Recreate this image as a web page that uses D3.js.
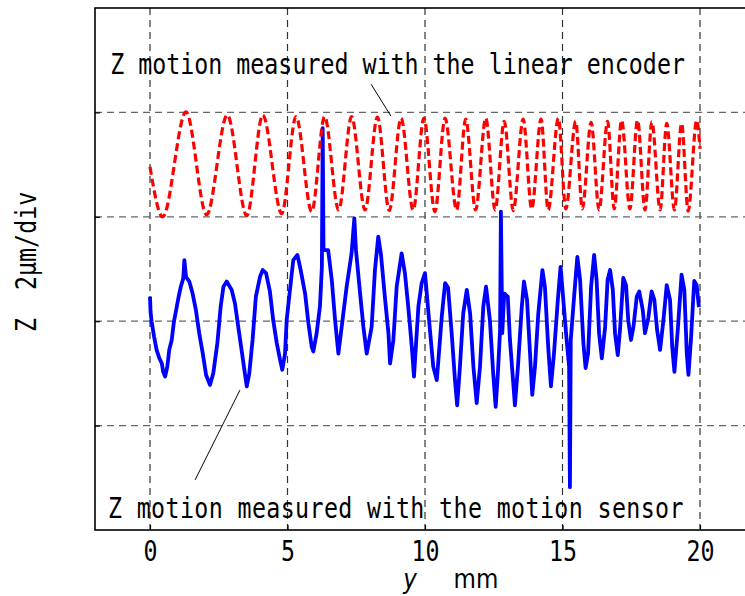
<!DOCTYPE html>
<html>
<head>
<meta charset="utf-8">
<script src="https://cdn.jsdelivr.net/npm/d3@7/dist/d3.min.js"></script>
<style>
  html, body { margin: 0; padding: 0; background: #fff; }
  svg { display: block; }
  text { fill: #000; }
</style>
</head>
<body>
<svg id="chart" width="745" height="596"></svg>
<script>
// Feed position y (mm)
const xTicks = [0, 5, 10, 15, 20];
// Z grid lines (µm), 2 µm per division
const zGrid = [-2, 0, 2, 4];

// Linear encoder trace: turning points of the oscillation
const encoderY = [0.00, 0.46, 1.31, 2.06, 2.81, 3.52, 4.10, 4.79, 5.31, 5.88, 6.35, 6.86, 7.33, 7.82,
  8.27, 8.70, 9.13, 9.57, 9.96, 10.36, 10.73, 11.15, 11.48, 11.84, 12.21, 12.55, 12.88, 13.21,
  13.57, 13.88, 14.22, 14.48, 14.85, 15.12, 15.48, 15.72, 16.04, 16.33, 16.64, 16.88, 17.15,
  17.45, 17.73, 18.00, 18.25, 18.55, 18.79, 19.07, 19.33, 19.57, 19.88, 20.00];
const encoderZ = [2.96, 2.00, 4.01, 2.04, 3.95, 2.02, 3.95, 2.06, 3.92, 2.10, 3.92, 2.13, 3.92, 2.13,
  3.91, 2.12, 3.89, 2.13, 3.89, 2.10, 3.89, 2.13, 3.87, 2.13, 3.89, 2.13, 3.83, 2.12,
  3.87, 2.15, 3.87, 2.13, 3.89, 2.15, 3.83, 2.15, 3.81, 2.13, 3.83, 2.15, 3.85,
  2.15, 3.85, 2.13, 3.82, 2.13, 3.79, 2.13, 3.79, 2.11, 3.85, 3.30];

// Motion sensor trace
const sensorY = [0.00, 0.02, 0.06, 0.15, 0.24, 0.34, 0.43, 0.48, 0.55, 0.63, 0.70, 0.79, 0.87, 0.95,
  1.03, 1.12, 1.21, 1.25, 1.31, 1.43, 1.55, 1.67, 1.79, 1.92, 2.04, 2.18, 2.30, 2.45, 2.57, 2.67,
  2.79, 2.97, 3.09, 3.21, 3.33, 3.45, 3.52, 3.61, 3.73, 3.85, 4.00, 4.10, 4.22, 4.36, 4.48, 4.61,
  4.73, 4.81, 4.91, 4.97, 5.09, 5.21, 5.36, 5.48, 5.64, 5.76, 5.88, 5.94, 6.06, 6.18, 6.25, 6.28,
  6.31, 6.48, 6.61, 6.73, 6.85, 6.97, 7.15, 7.33, 7.43, 7.49, 7.64, 7.76, 7.88, 8.06, 8.18, 8.30,
  8.40, 8.55, 8.67, 8.73, 8.85, 8.97, 9.15, 9.27, 9.39, 9.52, 9.60, 9.76, 9.88, 10.00, 10.18,
  10.30, 10.43, 10.61, 10.73, 10.84, 10.97, 11.09, 11.17, 11.27, 11.39, 11.52, 11.64, 11.76,
  11.88, 12.00, 12.12, 12.22, 12.36, 12.48, 12.57, 12.65, 12.73, 12.76, 12.81, 12.88, 13.01,
  13.09, 13.21, 13.27, 13.38, 13.52, 13.60, 13.71, 13.82, 13.90, 14.00, 14.12, 14.27, 14.36,
  14.48, 14.58, 14.69, 14.83, 14.93, 15.03, 15.15, 15.24, 15.27, 15.30, 15.43, 15.54, 15.64,
  15.76, 15.84, 15.93, 16.04, 16.15, 16.24, 16.33, 16.43, 16.55, 16.64, 16.73, 16.83, 16.91,
  17.01, 17.09, 17.21, 17.31, 17.39, 17.49, 17.58, 17.70, 17.79, 17.92, 18.00, 18.12, 18.24,
  18.34, 18.44, 18.55, 18.67, 18.79, 18.91, 18.99, 19.07, 19.20, 19.33, 19.43, 19.52, 19.58,
  19.67, 19.79, 19.88, 19.96];
const sensorZ = [0.47, 0.18, -0.01, -0.30, -0.55, -0.71, -0.81, -0.97, -1.06, -0.87, -0.55, -0.36, -0.01, 0.21,
  0.44, 0.66, 0.82, 1.17, 0.85, 0.76, 0.53, 0.21, -0.23, -0.62, -1.03, -1.22, -1.00, -0.42, 0.28, 0.66,
  0.76, 0.60, 0.34, -0.11, -0.55, -1.00, -1.25, -1.00, -0.36, 0.47, 0.85, 0.98, 0.92, 0.57, 0.02, -0.42,
  -0.74, -0.93, -0.62, 0.02, 0.60, 1.17, 1.27, 0.98, 0.53, -0.04, -0.49, -0.58, -0.23, 0.28, 1.04, 3.70,
  1.36, 1.36, 0.79, 0.02, -0.62, -0.11, 0.66, 1.30, 1.97, 1.36, 0.53, -0.11, -0.62, -0.11, 0.98, 1.62,
  1.27, 0.41, -0.23, -0.81, -0.36, 0.66, 1.30, 0.92, 0.28, -0.49, -1.06, 0.28, 0.73, 0.92, -0.17,
  -0.87, -1.13, 0.09, 0.73, 0.64, -0.23, -1.13, -1.61, -0.87, 0.15, 0.60, 0.15, -0.87,
  -1.57, -0.87, 0.28, 0.66, 0.02, -1.00, -1.64, -1.00, -0.17, 2.10, -0.23, 0.53, 0.47,
  -0.36, -1.19, -1.61, -0.87, 0.28, 0.76, 0.41, -0.62, -1.41, -0.87, 0.15, 0.98, 0.66,
  -0.49, -1.25, -0.62, 0.41, 1.04, 0.41, -0.36, -0.87, -3.18, -0.36, 0.53, 1.23, 0.79,
  -0.42, -0.90, -0.62, 0.66, 1.27, 0.79, -0.23, -0.71, -0.11, 0.79, 0.98, 0.60, -0.23,
  -0.65, -0.17, 0.83, 0.69, 0.02, -0.36, -0.11, 0.47, 0.57, 0.21, -0.23, 0.06, 0.57,
  0.41, -0.17, -0.55, 0.02, 0.69, 0.41, -0.49, -0.97, -0.11, 0.89, 0.60, -0.62, -1.03,
  -0.36, 0.77, 0.69, 0.27];

const svg = d3.select("#chart");
const plot = { left: 95, right: 746.75, top: 8, bottom: 530 };
const mono = "'DejaVu Sans Mono', monospace";
const sans = "'DejaVu Sans', sans-serif";
const fs = 23.3;      // monospace size giving a 14 px character cell
const tall = 1.18;    // vertical stretch of the lettering

const x = d3.scaleLinear().domain([-2, 21.7]).range([plot.left, plot.right]);
const z = d3.scaleLinear().domain([-4, 6]).range([plot.bottom, plot.top]);

// grid
const grid = svg.append("g").attr("class", "grid")
  .attr("stroke-width", 1.2).attr("stroke-dasharray", "7,5");
grid.selectAll("line.v").data(xTicks).join("line").attr("class", "v")
  .attr("stroke", "#333")
  .attr("x1", d => x(d)).attr("x2", d => x(d))
  .attr("y1", plot.top).attr("y2", plot.bottom);
grid.selectAll("line.h").data(zGrid).join("line").attr("class", "h")
  .attr("stroke", "#666")
  .attr("x1", plot.left).attr("x2", plot.right)
  .attr("y1", d => z(d)).attr("y2", d => z(d));

// traces
const sensor = sensorY.map((v, i) => [v, sensorZ[i]]);
const encoder = encoderY.map((v, i) => [v, encoderZ[i]]);

svg.append("path").datum(sensor)
  .attr("d", d3.line().x(d => x(d[0])).y(d => z(d[1])).curve(d3.curveLinear))
  .attr("fill", "none")
  .attr("stroke", "#0000ff").attr("stroke-width", 3.8)
  .attr("stroke-linejoin", "round");

svg.append("path").datum(encoder)
  .attr("d", d3.line().x(d => x(d[0])).y(d => z(d[1])).curve(d3.curveMonotoneX))
  .attr("fill", "none")
  .attr("stroke", "#ff0000").attr("stroke-width", 3.2)
  .attr("stroke-dasharray", "8,4");

// axes (inward ticks, no domain path)
const xAxis = d3.axisBottom(x).tickValues(xTicks).tickSizeInner(-5).tickSizeOuter(0).tickFormat("");
const gx = svg.append("g").attr("transform", `translate(0,${plot.bottom})`).call(xAxis);
gx.select(".domain").remove();
gx.selectAll("line").attr("stroke", "#000").attr("stroke-width", 1.2);
gx.selectAll(".tick").append("text")
  .attr("transform", `translate(0,31) scale(1,${tall})`)
  .attr("text-anchor", "middle")
  .style("font-family", mono).style("font-size", fs + "px").attr("fill", "#000")
  .text(d => d);

const zAxis = d3.axisLeft(z).tickValues(zGrid).tickSizeInner(-5).tickSizeOuter(0).tickFormat("");
const gz = svg.append("g").attr("transform", `translate(${plot.left},0)`).call(zAxis);
gz.select(".domain").remove();
gz.selectAll("line").attr("stroke", "#000").attr("stroke-width", 1.2);

// frame
svg.append("rect")
  .attr("x", plot.left).attr("y", plot.top)
  .attr("width", plot.right - plot.left).attr("height", plot.bottom - plot.top)
  .attr("fill", "none").attr("stroke", "#000").attr("stroke-width", 1.6);

// axis titles
svg.append("text")
  .attr("transform", `translate(410,588) scale(1,${tall})`)
  .attr("text-anchor", "middle")
  .style("font-family", sans).style("font-size", "23px").style("font-style", "italic")
  .text("y");
svg.append("text")
  .attr("transform", `translate(476,588) scale(1,${tall})`)
  .attr("text-anchor", "middle")
  .style("font-family", sans).style("font-size", "23px")
  .text("mm");

svg.append("text")
  .attr("transform", `translate(36,332) rotate(-90) scale(1,${tall})`)
  .style("font-family", mono).style("font-size", fs + "px")
  .attr("xml:space", "preserve")
  .text("Z  2μm/div");

// trace annotations with leader lines
const notes = [
  { text: "Z motion measured with the linear encoder", tx: -1.45, tz: 4.74, track: 0,
    from: [8.04, 4.54], to: [8.76, 3.93] },
  { text: "Z motion measured with the motion sensor", tx: -1.53, tz: -3.77, track: 0.38,
    from: [3.27, -1.32], to: [1.64, -3.04] }
];
notes.forEach(n => {
  svg.append("text")
    .attr("transform", `translate(${x(n.tx)},${z(n.tz)}) scale(1,${tall})`)
    .style("font-family", mono).style("font-size", fs + "px")
    .style("letter-spacing", n.track + "px")
    .text(n.text);
  svg.append("line")
    .attr("x1", x(n.from[0])).attr("y1", z(n.from[1]))
    .attr("x2", x(n.to[0])).attr("y2", z(n.to[1]))
    .attr("stroke", "#000").attr("stroke-width", 1);
});
</script>
</body>
</html>
